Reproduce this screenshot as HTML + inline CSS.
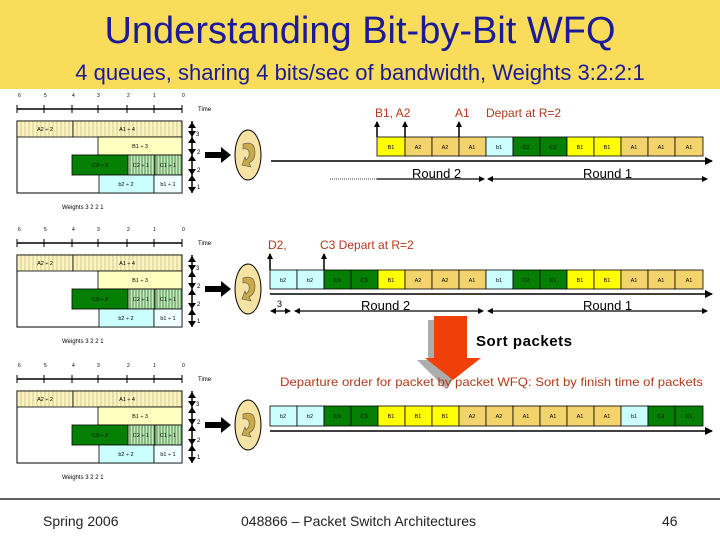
<!DOCTYPE html>
<html><head><meta charset="utf-8"><style>
html,body{margin:0;padding:0;background:#fff;}
svg{display:block;}
</style></head><body>
<svg width="720" height="540" viewBox="0 0 720 540" xmlns="http://www.w3.org/2000/svg" font-family="Liberation Sans, sans-serif">
<defs>
<pattern id="vh" width="4" height="4" patternUnits="userSpaceOnUse"><rect width="4" height="4" fill="#FBF4C0"/><line x1="1" y1="0" x2="1" y2="4" stroke="#B8B070" stroke-width="0.6"/></pattern>
<pattern id="gh" width="3" height="4" patternUnits="userSpaceOnUse"><rect width="3" height="4" fill="#C8E8C0"/><line x1="1" y1="0" x2="1" y2="4" stroke="#2a7a2a" stroke-width="0.8"/></pattern>
<marker id="ah" markerWidth="8" markerHeight="8" refX="7" refY="4" orient="auto" markerUnits="userSpaceOnUse"><path d="M0,0 L8,4 L0,8 z" fill="#000"/></marker>
<marker id="ahs" markerWidth="6" markerHeight="6" refX="5" refY="3" orient="auto-start-reverse" markerUnits="userSpaceOnUse"><path d="M0,0 L6,3 L0,6 z" fill="#000"/></marker>
<g id="left">
 <g font-size="5" fill="#000"><text x="18" y="97">6</text><text x="44" y="97">5</text><text x="72" y="97">4</text><text x="97" y="97">3</text><text x="127" y="97">2</text><text x="153" y="97">1</text><text x="182" y="97">0</text></g>
 <line x1="17" y1="109" x2="182" y2="109" stroke="#000" stroke-width="1.5"/>
 <g stroke="#000" stroke-width="1"><line x1="17" y1="105" x2="17" y2="113"/><line x1="44" y1="105" x2="44" y2="113"/><line x1="72" y1="105" x2="72" y2="113"/><line x1="98" y1="105" x2="98" y2="113"/><line x1="127" y1="105" x2="127" y2="113"/><line x1="154" y1="105" x2="154" y2="113"/><line x1="182" y1="105" x2="182" y2="113"/></g>
 <text x="198" y="111" font-size="6">Time</text>
 <rect x="17" y="121" width="165" height="72" fill="#fff" stroke="#000"/>
 <rect x="17" y="121" width="56" height="16" fill="url(#vh)" stroke="#000" stroke-width="0.8"/>
 <rect x="73" y="121" width="109" height="16" fill="url(#vh)" stroke="#000" stroke-width="0.8"/>
 <rect x="98" y="137" width="84" height="18" fill="#FFFFC0" stroke="#000" stroke-width="0.8"/>
 <rect x="72" y="155" width="56" height="20" fill="#058005" stroke="#000" stroke-width="0.8"/>
 <rect x="128" y="155" width="27" height="20" fill="url(#gh)" stroke="#000" stroke-width="0.8"/>
 <rect x="155" y="155" width="27" height="20" fill="url(#gh)" stroke="#000" stroke-width="0.8"/>
 <rect x="99" y="175" width="55" height="18" fill="#CCFFFF" stroke="#000" stroke-width="0.8"/>
 <rect x="154" y="175" width="28" height="18" fill="#F0FFFF" stroke="#000" stroke-width="0.8"/>
 <g font-size="5.5" text-anchor="middle"><text x="45" y="131">A2 ÷ 2</text><text x="127" y="131">A1 ÷ 4</text><text x="140" y="148">B1 ÷ 3</text><text x="100" y="167">C3 ÷ 2</text><text x="141" y="167">C2 ÷ 1</text><text x="168" y="167">C1 ÷ 1</text><text x="126" y="186">b2 ÷ 2</text><text x="168" y="186">b1 ÷ 1</text></g>
 <line x1="192" y1="121" x2="192" y2="193" stroke="#000" stroke-width="1.5"/>
 <g fill="#000"><path d="M188,128 l4,-6 l4,6z M188,131 l4,6 l4,-6z M188,143 l4,-6 l4,6z M188,149 l4,6 l4,-6z M188,161 l4,-6 l4,6z M188,169 l4,6 l4,-6z M188,181 l4,-6 l4,6z M188,187 l4,6 l4,-6z"/></g>
 <g font-size="6"><text x="196" y="136">3</text><text x="197" y="154">2</text><text x="197" y="172">2</text><text x="197" y="189">1</text></g>
 <text x="62" y="209" font-size="6">Weights 3 2 2 1</text>
 <path d="M205,152 h16 v-5 l10,8 l-10,8 v-5 h-16z" fill="#000"/>
 <ellipse cx="248" cy="155" rx="13" ry="25" fill="#F6E3A4" stroke="#000"/>
 <path d="M243,144 q12,-4 12,9 q0,7 -6,10 l2,4 l-9,-2 l3,-8 l1,3 q4,-3 3,-8 q-1,-4 -6,-3z" fill="#C9A94A" stroke="#555" stroke-width="0.6"/>
</g>
</defs>
<rect x="0" y="0" width="720" height="89" fill="#F8DC5A"/>
<text x="360" y="43" text-anchor="middle" font-size="38" fill="#1A1A9A">Understanding Bit-by-Bit WFQ</text>
<text x="360" y="80" text-anchor="middle" font-size="22" fill="#1A1A9A">4 queues, sharing 4 bits/sec of bandwidth, Weights 3:2:2:1</text>
<use href="#left"/>
<use href="#left" transform="translate(0,134)"/>
<use href="#left" transform="translate(0,270)"/>

<g stroke="#000" stroke-width="0.8">
<rect x="377" y="137" width="28" height="19" fill="#FFFF00"/>
<rect x="405" y="137" width="27" height="19" fill="#F3D36B"/>
<rect x="432" y="137" width="27" height="19" fill="#F3D36B"/>
<rect x="459" y="137" width="27" height="19" fill="#F3D36B"/>
<rect x="486" y="137" width="27" height="19" fill="#CCFFFF"/>
<rect x="513" y="137" width="27" height="19" fill="#058005"/>
<rect x="540" y="137" width="27" height="19" fill="#058005"/>
<rect x="567" y="137" width="27" height="19" fill="#FFFF00"/>
<rect x="594" y="137" width="27" height="19" fill="#FFFF00"/>
<rect x="621" y="137" width="27" height="19" fill="#F3D36B"/>
<rect x="648" y="137" width="27" height="19" fill="#F3D36B"/>
<rect x="675" y="137" width="28" height="19" fill="#F3D36B"/>
</g>
<g font-size="5.5" text-anchor="middle"><text x="391" y="149">B1</text><text x="418" y="149">A2</text><text x="445" y="149">A2</text><text x="472" y="149">A1</text><text x="499" y="149">b1</text><text x="526" y="149">C2</text><text x="553" y="149">C1</text><text x="580" y="149">B1</text><text x="607" y="149">B1</text><text x="634" y="149">A1</text><text x="661" y="149">A1</text><text x="689" y="149">A1</text></g>
<line x1="271" y1="161" x2="712" y2="161" stroke="#000" stroke-width="1.5" marker-end="url(#ah)"/>
<line x1="377" y1="137" x2="377" y2="122" stroke="#000" stroke-width="1.5" marker-end="url(#ahs)"/>
<line x1="405" y1="137" x2="405" y2="122" stroke="#000" stroke-width="1.5" marker-end="url(#ahs)"/>
<line x1="459" y1="137" x2="459" y2="122" stroke="#000" stroke-width="1.5" marker-end="url(#ahs)"/>
<g font-size="12" fill="#B03A1A"><text x="375" y="117">B1,  A2</text><text x="455" y="117">A1</text><text x="486" y="117">Depart at R=2</text></g>
<line x1="330" y1="179" x2="377" y2="179" stroke="#000" stroke-width="0.8" stroke-dasharray="1,1"/>
<line x1="377" y1="179" x2="484" y2="179" stroke="#000" stroke-width="1.2" marker-end="url(#ahs)"/>
<line x1="488" y1="179" x2="707" y2="179" stroke="#000" stroke-width="1.2" marker-start="url(#ahs)" marker-end="url(#ahs)"/>
<text x="412" y="178" font-size="13">Round 2</text>
<text x="583" y="178" font-size="13">Round 1</text>

<g stroke="#000" stroke-width="0.8">
<rect x="270" y="270" width="27" height="19" fill="#CCFFFF"/>
<rect x="297" y="270" width="27" height="19" fill="#CCFFFF"/>
<rect x="324" y="270" width="27" height="19" fill="#058005"/>
<rect x="351" y="270" width="27" height="19" fill="#058005"/>
<rect x="378" y="270" width="27" height="19" fill="#FFFF00"/>
<rect x="405" y="270" width="27" height="19" fill="#F3D36B"/>
<rect x="432" y="270" width="27" height="19" fill="#F3D36B"/>
<rect x="459" y="270" width="27" height="19" fill="#F3D36B"/>
<rect x="486" y="270" width="27" height="19" fill="#CCFFFF"/>
<rect x="513" y="270" width="27" height="19" fill="#058005"/>
<rect x="540" y="270" width="27" height="19" fill="#058005"/>
<rect x="567" y="270" width="27" height="19" fill="#FFFF00"/>
<rect x="594" y="270" width="27" height="19" fill="#FFFF00"/>
<rect x="621" y="270" width="27" height="19" fill="#F3D36B"/>
<rect x="648" y="270" width="27" height="19" fill="#F3D36B"/>
<rect x="675" y="270" width="28" height="19" fill="#F3D36B"/>
</g>
<g font-size="5.5" text-anchor="middle"><text x="283" y="282">b2</text><text x="310" y="282">b2</text><text x="337" y="282">C3</text><text x="364" y="282">C3</text><text x="391" y="282">B1</text><text x="418" y="282">A2</text><text x="445" y="282">A2</text><text x="472" y="282">A1</text><text x="499" y="282">b1</text><text x="526" y="282">C2</text><text x="553" y="282">C1</text><text x="580" y="282">B1</text><text x="607" y="282">B1</text><text x="634" y="282">A1</text><text x="661" y="282">A1</text><text x="689" y="282">A1</text></g>
<line x1="270" y1="294" x2="712" y2="294" stroke="#000" stroke-width="1.5" marker-end="url(#ah)"/>
<line x1="270" y1="270" x2="270" y2="254" stroke="#000" stroke-width="1.5" marker-end="url(#ahs)"/>
<line x1="324" y1="270" x2="324" y2="254" stroke="#000" stroke-width="1.5" marker-end="url(#ahs)"/>
<g font-size="12" fill="#B03A1A"><text x="268" y="249">D2,</text><text x="320" y="249">C3  Depart at R=2</text></g>
<text x="277" y="307" font-size="9">3</text>
<line x1="271" y1="311" x2="290" y2="311" stroke="#000" stroke-width="1.2" marker-start="url(#ahs)" marker-end="url(#ahs)"/>
<line x1="295" y1="311" x2="483" y2="311" stroke="#000" stroke-width="1.2" marker-start="url(#ahs)" marker-end="url(#ahs)"/>
<line x1="488" y1="311" x2="707" y2="311" stroke="#000" stroke-width="1.2" marker-start="url(#ahs)" marker-end="url(#ahs)"/>
<text x="361" y="310" font-size="13">Round 2</text>
<text x="583" y="310" font-size="13">Round 1</text>

<path d="M428,320 h33 v40 h12 l-28,28 l-28,-28 h11z" fill="#999" opacity="0.8"/>
<path d="M434,316 h33 v42 h14 l-28,22 l-28,-22 h9z" fill="#F0400A"/>
<text x="476" y="346" font-size="15" font-weight="bold" textLength="96">Sort packets</text>
<text x="280" y="386" font-size="12" fill="#B03A1A" textLength="423" lengthAdjust="spacingAndGlyphs">Departure order for packet by packet WFQ: Sort by finish time of packets</text>

<g stroke="#000" stroke-width="0.8">
<rect x="270" y="406" width="27" height="20" fill="#CCFFFF"/>
<rect x="297" y="406" width="27" height="20" fill="#CCFFFF"/>
<rect x="324" y="406" width="27" height="20" fill="#058005"/>
<rect x="351" y="406" width="27" height="20" fill="#058005"/>
<rect x="378" y="406" width="27" height="20" fill="#FFFF00"/>
<rect x="405" y="406" width="27" height="20" fill="#FFFF00"/>
<rect x="432" y="406" width="27" height="20" fill="#FFFF00"/>
<rect x="459" y="406" width="27" height="20" fill="#F3D36B"/>
<rect x="486" y="406" width="27" height="20" fill="#F3D36B"/>
<rect x="513" y="406" width="27" height="20" fill="#F3D36B"/>
<rect x="540" y="406" width="27" height="20" fill="#F3D36B"/>
<rect x="567" y="406" width="27" height="20" fill="#F3D36B"/>
<rect x="594" y="406" width="27" height="20" fill="#F3D36B"/>
<rect x="621" y="406" width="27" height="20" fill="#CCFFFF"/>
<rect x="648" y="406" width="27" height="20" fill="#058005"/>
<rect x="675" y="406" width="28" height="20" fill="#058005"/>
</g>
<g font-size="5.5" text-anchor="middle"><text x="283" y="418">b2</text><text x="310" y="418">b2</text><text x="337" y="418">C3</text><text x="364" y="418">C3</text><text x="391" y="418">B1</text><text x="418" y="418">B1</text><text x="445" y="418">B1</text><text x="472" y="418">A2</text><text x="499" y="418">A2</text><text x="526" y="418">A1</text><text x="553" y="418">A1</text><text x="580" y="418">A1</text><text x="607" y="418">A1</text><text x="634" y="418">b1</text><text x="661" y="418">C2</text><text x="689" y="418">C1</text></g>
<line x1="270" y1="431" x2="712" y2="431" stroke="#000" stroke-width="1.5" marker-end="url(#ah)"/>

<line x1="0" y1="499" x2="720" y2="499" stroke="#000" stroke-width="1.2"/>
<text x="43" y="526" font-size="14" fill="#222">Spring 2006</text>
<text x="241" y="526" font-size="14" fill="#222">048866 – Packet Switch Architectures</text>
<text x="662" y="526" font-size="14" fill="#222">46</text>
</svg>
</body></html>
